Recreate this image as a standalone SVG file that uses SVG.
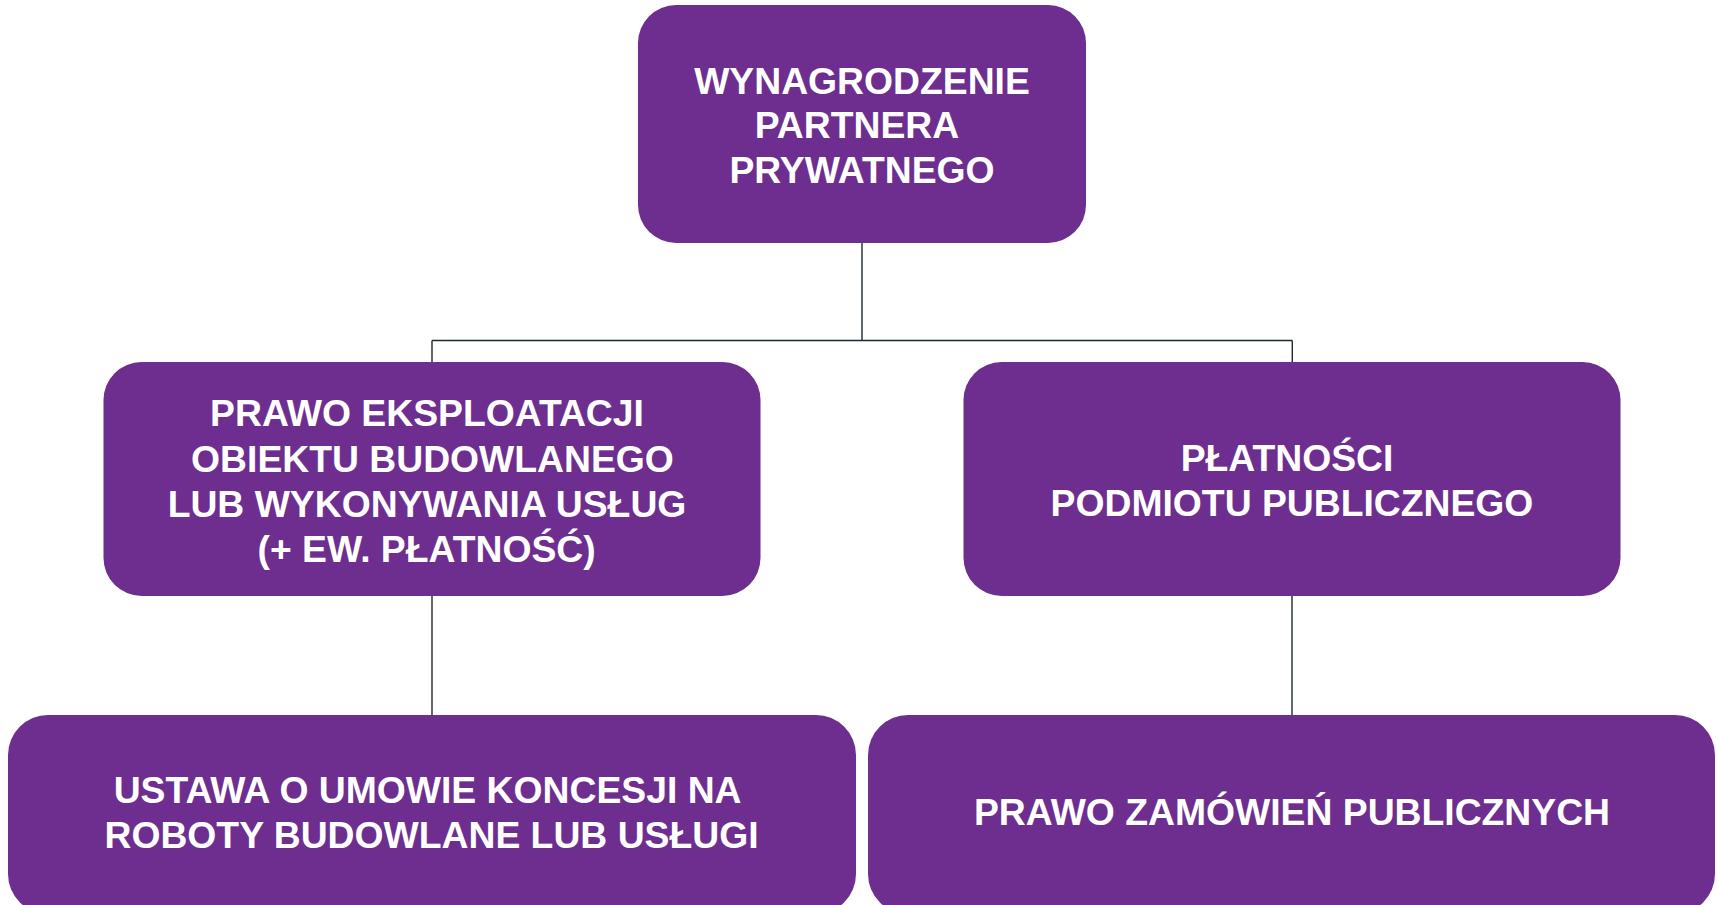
<svg xmlns="http://www.w3.org/2000/svg" width="1717" height="905" viewBox="0 0 1717 905">
<style>
.box{fill:#6D2E8F;}
.t{font-family:"Liberation Sans",Arial,sans-serif;font-weight:bold;font-size:37.3px;fill:#FFFFFF;text-anchor:middle;}
.c{stroke:#1C2A30;stroke-width:1.4;fill:none;}
</style>
<rect width="1717" height="905" fill="#FFFFFF"/>
<g id="connectors">
<path class="c" d="M862,243 V340.5 M432,340.5 H1292.3 M432,340.5 V362 M1292.3,340.5 V362"/>
<path class="c" d="M432,596 V715"/>
<path class="c" d="M1292,596 V715"/>
</g>
<g id="node-top">
<rect class="box" x="638" y="5" width="448" height="238" rx="38"/>
<text class="t" x="862" y="94">WYNAGRODZENIE</text>
<text class="t" x="857" y="138">PARTNERA</text>
<text class="t" x="862" y="182.5">PRYWATNEGO</text>
</g>
<g id="node-mid-left">
<rect class="box" x="103.5" y="362" width="657" height="234" rx="38"/>
<text class="t" x="427" y="426">PRAWO EKSPLOATACJI</text>
<text class="t" x="432.5" y="471.5">OBIEKTU BUDOWLANEGO</text>
<text class="t" x="427" y="516.5">LUB WYKONYWANIA USŁUG</text>
<text class="t" x="426.6" y="561.5">(+ EW. PŁATNOŚĆ)</text>
</g>
<g id="node-mid-right">
<rect class="box" x="963.5" y="362" width="657" height="234" rx="38"/>
<text class="t" x="1287" y="470.5">PŁATNOŚCI</text>
<text class="t" x="1292" y="516">PODMIOTU PUBLICZNEGO</text>
</g>
<g id="node-bottom-left">
<rect class="box" x="8" y="715" width="848" height="199" rx="40"/>
<text class="t" x="427.6" y="802.5">USTAWA O UMOWIE KONCESJI NA</text>
<text class="t" x="431.5" y="847.5">ROBOTY BUDOWLANE LUB USŁUGI</text>
</g>
<g id="node-bottom-right">
<rect class="box" x="868" y="715" width="847" height="199" rx="40"/>
<text class="t" x="1292" y="825">PRAWO ZAMÓWIEŃ PUBLICZNYCH</text>
</g>
</svg>
